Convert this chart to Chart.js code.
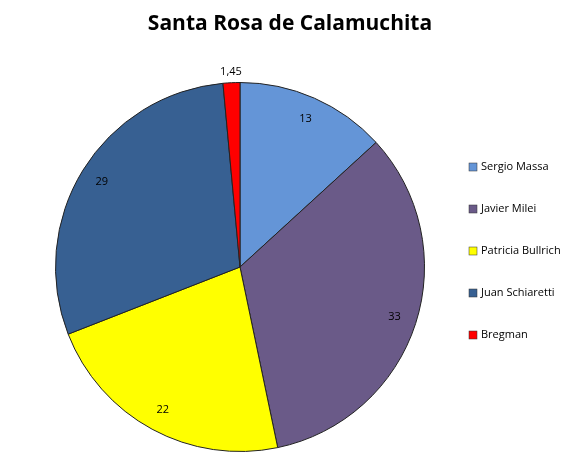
<!DOCTYPE html>
<html>
<head>
<meta charset="utf-8">
<script src="https://cdn.jsdelivr.net/npm/chart.js@4/dist/chart.umd.min.js"></script>
<style>
html, body { margin: 0; padding: 0; background: #fff; }
#wrap { width: 579px; height: 471px; }
</style>
</head>
<body>
<div id="wrap"><canvas id="grafico"></canvas></div>
<script>
// datos
const candidatos = ['Sergio Massa', 'Javier Milei', 'Patricia Bullrich', 'Juan Schiaretti', 'Bregman'];
const votos = [13, 33, 22, 29, 1.45];
const etiquetas = ['13', '33', '22', '29', '1,45'];
const colores = ['#6495D7', '#6A5A88', '#FFFF00', '#376092', '#FF0000'];

// título, etiquetas y leyenda dibujados a mano
const extras = {
    id: 'extras',
    afterDraw(chart) {
        const ctx = chart.ctx;
        ctx.save();
        ctx.fillStyle = '#000';
        ctx.textAlign = 'center';
        ctx.textBaseline = 'middle';
        ctx.font = 'bold 21px "Open Sans", sans-serif';
        ctx.fillText('Santa Rosa de Calamuchita', 290, 24);

        ctx.font = '11px "Open Sans", sans-serif';
        const arcs = chart.getDatasetMeta(0).data;
        arcs.forEach((arc, i) => {
            const mid = (arc.startAngle + arc.endAngle) / 2;
            const f = i === 4 ? 1.06 : 0.88;
            ctx.fillText(etiquetas[i], arc.x + Math.cos(mid) * arc.outerRadius * f,
                arc.y + Math.sin(mid) * arc.outerRadius * f);
        });

        ctx.textAlign = 'left';
        candidatos.forEach((c, i) => {
            const y = 167 + i * 42;
            ctx.fillStyle = colores[i];
            ctx.fillRect(469, y - 4, 8, 8);
            ctx.strokeStyle = '#333';
            ctx.lineWidth = 0.5;
            ctx.strokeRect(469, y - 4, 8, 8);
            ctx.fillStyle = '#000';
            ctx.fillText(c, 481, y);
        });
        ctx.restore();
    }
};

new Chart(document.getElementById('grafico').getContext('2d'), {
    type: 'pie',
    data: {
        labels: candidatos,
        datasets: [{
            data: votos,
            backgroundColor: colores,
            borderColor: '#222',
            borderWidth: 1
        }]
    },
    options: {
        responsive: true,
        maintainAspectRatio: false,
        animation: false,
        layout: { padding: { top: 82, bottom: 19, left: 55, right: 154 } },
        plugins: {
            legend: { display: false },
            tooltip: { enabled: false }
        }
    },
    plugins: [extras]
});
</script>
</body>
</html>
